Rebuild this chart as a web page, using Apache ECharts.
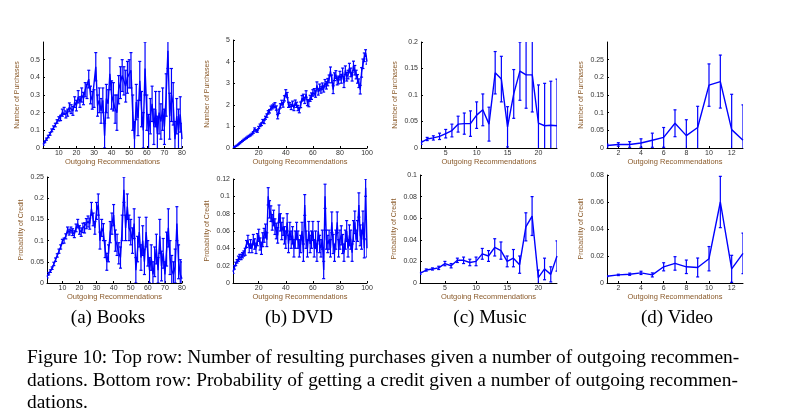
<!DOCTYPE html>
<html><head><meta charset="utf-8">
<script src="https://cdn.jsdelivr.net/npm/echarts@6/dist/echarts.min.js"></script>
<style>html,body{margin:0;padding:0;background:#fff}#c{width:793px;height:420px}</style>
</head><body><div id="c"></div>
<script>
const booksPurch=[0.02,0.035,0.05,0.065,0.08,0.1,0.115,0.13,0.15,0.165,0.17,0.2,0.21,0.19,0.2,0.23,0.22,0.21,0.26,0.24,0.29,0.26,0.3,0.28,0.33,0.32,0.39,0.3,0.27,0.28,0.46,0.24,0.27,0.21,0.27,0.07,0.28,0.25,0.42,0.3,0.29,0.22,0.2,0.33,0.37,0.41,0.38,0.35,0.4,0.42,0.44,0.2,0.05,0.26,0.17,0.38,0.22,0.1,0.45,0.2,0.09,0.18,0.25,0.12,0.22,0.08,0.2,0.15,0.22,0.12,0.3,0.55,0.18,0.3,0.25,0.05,0.18,0.1,0.19,0.05];
const booksPurchErr=[0.005,0.005,0.006,0.007,0.008,0.008,0.01,0.01,0.01,0.012,0.015,0.02,0.02,0.02,0.02,0.025,0.025,0.025,0.03,0.03,0.035,0.03,0.04,0.035,0.04,0.04,0.05,0.05,0.05,0.05,0.08,0.06,0.07,0.07,0.07,0.07,0.08,0.08,0.09,0.08,0.08,0.08,0.1,0.08,0.09,0.09,0.08,0.09,0.09,0.08,0.1,0.1,0.1,0.1,0.1,0.11,0.1,0.1,0.15,0.1,0.1,0.1,0.1,0.1,0.1,0.1,0.12,0.1,0.12,0.1,0.12,0.1,0.13,0.15,0.12,0.1,0.1,0.12,0.1,0.09];
const dvdPurch=[0.02,0.05,0.08,0.12,0.17,0.22,0.28,0.33,0.38,0.43,0.47,0.52,0.56,0.6,0.65,0.72,0.88,0.8,0.78,0.95,1.05,1.1,1.25,1.2,1.4,1.5,1.65,1.7,1.85,1.9,1.95,2.0,1.85,1.45,1.7,1.95,2.1,2.0,2.3,2.55,2.45,2.0,2.0,1.9,2.05,1.85,2.1,2.0,1.85,1.75,2.0,2.3,2.35,2.2,2.5,2.1,2.05,2.3,2.4,2.55,2.6,2.5,2.9,2.6,2.8,2.7,2.85,2.75,3.0,2.9,3.05,3.2,3.55,3.2,2.7,3.3,3.4,3.1,3.15,3.35,3.2,3.5,3.0,3.6,3.3,3.4,3.7,3.5,3.3,3.8,3.6,3.4,3.2,3.0,2.7,3.5,3.9,4.2,4.4,4.0];
const dvdPurchErr=[0.01,0.01,0.01,0.015,0.015,0.02,0.02,0.02,0.025,0.025,0.03,0.03,0.03,0.035,0.035,0.04,0.05,0.05,0.05,0.05,0.06,0.06,0.07,0.07,0.07,0.08,0.08,0.08,0.09,0.09,0.09,0.1,0.1,0.1,0.1,0.1,0.11,0.11,0.12,0.15,0.12,0.12,0.1,0.12,0.12,0.12,0.12,0.12,0.12,0.12,0.13,0.13,0.14,0.14,0.15,0.14,0.14,0.14,0.15,0.15,0.15,0.15,0.16,0.15,0.16,0.16,0.16,0.16,0.17,0.17,0.17,0.18,0.2,0.18,0.18,0.18,0.18,0.18,0.18,0.2,0.2,0.2,0.2,0.2,0.2,0.2,0.22,0.2,0.2,0.22,0.22,0.2,0.2,0.2,0.2,0.22,0.22,0.2,0.15,0.12];
const musicPurch=[0.01,0.017,0.019,0.022,0.027,0.033,0.045,0.046,0.046,0.062,0.072,0.045,0.142,0.13,0.04,0.102,0.145,0.138,0.138,0.047,0.042,0.043,0.042];
const musicPurchErr=[0.003,0.003,0.004,0.006,0.008,0.012,0.015,0.02,0.024,0.025,0.03,0.032,0.04,0.043,0.038,0.046,0.055,0.063,0.07,0.072,0.08,0.083,0.088];
const videoPurch=[0.007,0.01,0.01,0.014,0.022,0.03,0.07,0.035,0.058,0.178,0.188,0.052,0.022];
const videoPurchErr=[0.004,0.005,0.008,0.012,0.02,0.028,0.038,0.045,0.06,0.06,0.075,0.1,0.1];
const booksCred=[0.015,0.022,0.028,0.035,0.045,0.055,0.065,0.075,0.085,0.098,0.1,0.11,0.125,0.12,0.125,0.12,0.115,0.13,0.14,0.125,0.12,0.13,0.13,0.14,0.145,0.14,0.175,0.15,0.13,0.17,0.185,0.1,0.13,0.12,0.08,0.05,0.07,0.12,0.14,0.16,0.1,0.09,0.07,0.06,0.13,0.22,0.13,0.18,0.13,0.12,0.1,0.14,0.03,0.08,0.12,0.06,0.1,0.05,0.12,0.07,0.03,0.06,0.02,0.05,0.08,0.03,0.11,0.04,0.07,0.02,0.08,0.13,0.06,0.03,0.02,0.04,0.14,0.05,0.02,0.01];
const booksCredErr=[0.003,0.003,0.003,0.003,0.004,0.004,0.004,0.005,0.005,0.005,0.006,0.006,0.007,0.007,0.007,0.008,0.008,0.009,0.01,0.01,0.01,0.011,0.012,0.012,0.013,0.013,0.015,0.015,0.015,0.02,0.025,0.02,0.02,0.02,0.02,0.02,0.02,0.025,0.025,0.025,0.025,0.025,0.025,0.025,0.03,0.03,0.03,0.03,0.03,0.03,0.03,0.035,0.03,0.03,0.035,0.03,0.035,0.03,0.035,0.03,0.03,0.03,0.03,0.035,0.035,0.03,0.04,0.035,0.035,0.03,0.04,0.045,0.04,0.035,0.03,0.04,0.04,0.04,0.035,0.04];
const dvdCred=[0.013,0.018,0.022,0.025,0.028,0.03,0.03,0.032,0.034,0.036,0.045,0.05,0.04,0.045,0.04,0.05,0.045,0.04,0.05,0.055,0.045,0.04,0.05,0.055,0.06,0.05,0.1,0.085,0.08,0.07,0.075,0.065,0.06,0.055,0.08,0.07,0.06,0.065,0.055,0.05,0.07,0.045,0.06,0.05,0.055,0.04,0.05,0.06,0.05,0.04,0.045,0.06,0.035,0.09,0.05,0.04,0.06,0.045,0.05,0.06,0.04,0.05,0.035,0.06,0.045,0.04,0.05,0.015,0.1,0.05,0.045,0.05,0.04,0.07,0.045,0.035,0.05,0.07,0.04,0.05,0.055,0.045,0.035,0.05,0.06,0.04,0.055,0.05,0.035,0.06,0.07,0.05,0.06,0.09,0.055,0.05,0.07,0.04,0.11,0.04];
const dvdCredErr=[0.002,0.002,0.002,0.002,0.003,0.003,0.003,0.003,0.003,0.004,0.004,0.005,0.005,0.005,0.005,0.006,0.006,0.006,0.007,0.007,0.007,0.007,0.008,0.008,0.008,0.008,0.01,0.01,0.009,0.009,0.009,0.009,0.009,0.009,0.01,0.01,0.01,0.01,0.01,0.01,0.01,0.01,0.01,0.01,0.01,0.01,0.01,0.01,0.01,0.01,0.01,0.01,0.01,0.012,0.01,0.01,0.011,0.01,0.01,0.011,0.01,0.01,0.01,0.011,0.01,0.01,0.011,0.01,0.014,0.011,0.01,0.011,0.01,0.012,0.011,0.01,0.011,0.012,0.01,0.011,0.011,0.011,0.01,0.011,0.012,0.01,0.012,0.011,0.01,0.012,0.013,0.011,0.012,0.014,0.012,0.011,0.013,0.011,0.01,0.01];
const musicCred=[0.009,0.012,0.013,0.014,0.018,0.016,0.021,0.021,0.019,0.02,0.027,0.025,0.033,0.03,0.02,0.023,0.017,0.052,0.062,0.005,0.013,0.008,0.025];
const musicCredErr=[0.001,0.001,0.001,0.0015,0.002,0.002,0.002,0.003,0.003,0.004,0.005,0.005,0.008,0.008,0.005,0.008,0.008,0.013,0.018,0.007,0.01,0.007,0.014];
const videoCred=[0.005,0.006,0.0065,0.0075,0.006,0.012,0.0145,0.012,0.0115,0.018,0.06,0.0105,0.022];
const videoCredErr=[0.0003,0.0005,0.0008,0.0012,0.0015,0.003,0.005,0.005,0.007,0.009,0.019,0.01,0.015];
const captions=['(a) Books','(b) DVD','(c) Music','(d) Video'];
const figCaption=['Figure 10: Top row: Number of resulting purchases given a number of outgoing recommen-','dations. Bottom row: Probability of getting a credit given a number of outgoing recommen-','dations.'];

const panels=[
 {l:43,r:182,t:42,b:148,vals:booksPurch,err:booksPurchErr,xmax:80,xt:[10,20,30,40,50,60,70,80],ymax:0.6,yi:0.1,hideMax:true,yn:'Number of Purchases'},
 {l:233,r:367,t:40,b:148,vals:dvdPurch,err:dvdPurchErr,xmax:100,xt:[20,40,60,80,100],ymax:5,yi:1,hideMax:false,yn:'Number of Purchases'},
 {l:421,r:557,t:42,b:148,vals:musicPurch,err:musicPurchErr,xmax:23,xt:[5,10,15,20],ymax:0.2,yi:0.05,hideMax:false,yn:'Number of Purchases'},
 {l:607,r:743,t:42,b:148,vals:videoPurch,err:videoPurchErr,xmax:13,xt:[2,4,6,8,10,12],ymax:0.3,yi:0.05,hideMax:true,yn:'Number of Purchases'},
 {l:47,r:182,t:177,b:283,vals:booksCred,err:booksCredErr,xmax:80,xt:[10,20,30,40,50,60,70,80],ymax:0.25,yi:0.05,hideMax:false,yn:'Probability of Credit'},
 {l:233,r:367,t:179,b:283,vals:dvdCred,err:dvdCredErr,xmax:100,xt:[20,40,60,80,100],ymax:0.12,yi:0.02,hideMax:false,yn:'Probability of Credit'},
 {l:420,r:557,t:175,b:283,vals:musicCred,err:musicCredErr,xmax:23,xt:[5,10,15,20],ymax:0.1,yi:0.02,hideMax:false,yn:'Probability of Credit'},
 {l:607,r:743,t:175,b:283,vals:videoCred,err:videoCredErr,xmax:13,xt:[2,4,6,8,10,12],ymax:0.08,yi:0.02,hideMax:false,yn:'Probability of Credit'}
];
const BLUE='#0000ff', TXT='#333', NAMEC='#8a5a2a';
const grid=[],xAxis=[],yAxis=[],series=[];
panels.forEach((p,i)=>{
  grid.push({left:p.l,top:p.t,width:p.r-p.l,height:p.b-p.t,containLabel:false});
  xAxis.push({gridIndex:i,type:'value',min:1,max:p.xmax,name:'Outgoing Recommendations',nameLocation:'middle',nameGap:9,
    nameTextStyle:{fontSize:7.5,color:NAMEC,fontFamily:'Liberation Sans'},
    axisLine:{lineStyle:{color:'#000',width:1}},splitLine:{show:false},
    axisTick:{customValues:p.xt,length:-2,lineStyle:{color:'#000'}},
    axisLabel:{customValues:p.xt,fontSize:7,color:TXT,margin:2,fontFamily:'Liberation Sans'}});
  yAxis.push({gridIndex:i,type:'value',min:0,max:p.ymax,interval:p.yi,name:p.yn,nameLocation:'middle',nameGap:22,nameRotate:90,
    nameTextStyle:{fontSize:7,color:NAMEC,fontFamily:'Liberation Sans'},
    axisLine:{show:true,lineStyle:{color:'#000',width:1}},splitLine:{show:false},
    axisTick:{show:true,inside:true,length:2,lineStyle:{color:'#000'}},
    axisLabel:{fontSize:7,color:TXT,margin:3,showMaxLabel:!p.hideMax,fontFamily:'Liberation Sans'}});
  const pts=p.vals.map((v,k)=>[k+1,v]);
  const eb=p.vals.map((v,k)=>[k+1,v-p.err[k],v+p.err[k]]);
  series.push({type:'line',xAxisIndex:i,yAxisIndex:i,data:pts,showSymbol:false,lineStyle:{color:BLUE,width:1.4},silent:true,animation:false,clip:true,z:3});
  series.push({type:'custom',xAxisIndex:i,yAxisIndex:i,data:eb,clip:true,animation:false,silent:true,z:2,
    renderItem:(params,api)=>{
      const x=api.value(0),lo=api.value(1),hi=api.value(2);
      const a=api.coord([x,lo]),b=api.coord([x,hi]);const w=1.5;
      const st={stroke:BLUE,lineWidth:1.2};
      return {type:'group',children:[
        {type:'line',shape:{x1:a[0],y1:a[1],x2:b[0],y2:b[1]},style:st},
        {type:'line',shape:{x1:a[0]-w,y1:a[1],x2:a[0]+w,y2:a[1]},style:st},
        {type:'line',shape:{x1:b[0]-w,y1:b[1],x2:b[0]+w,y2:b[1]},style:st}]};
    }});
});
const graphic=[];
[108,299,490,677].forEach((cx,i)=>graphic.push({type:'text',x:cx,y:318,style:{text:captions[i],font:'19px "Liberation Serif"',fill:'#000',align:'center',verticalAlign:'middle'}}));
figCaption.forEach((t,i)=>graphic.push({type:'text',x:27,y:358+i*22.5,style:{text:t,font:'19.4px "Liberation Serif"',fill:'#000',verticalAlign:'middle'}}));
const chart=echarts.init(document.getElementById('c'));
chart.setOption({animation:false,grid,xAxis,yAxis,series,graphic});
</script></body></html>
